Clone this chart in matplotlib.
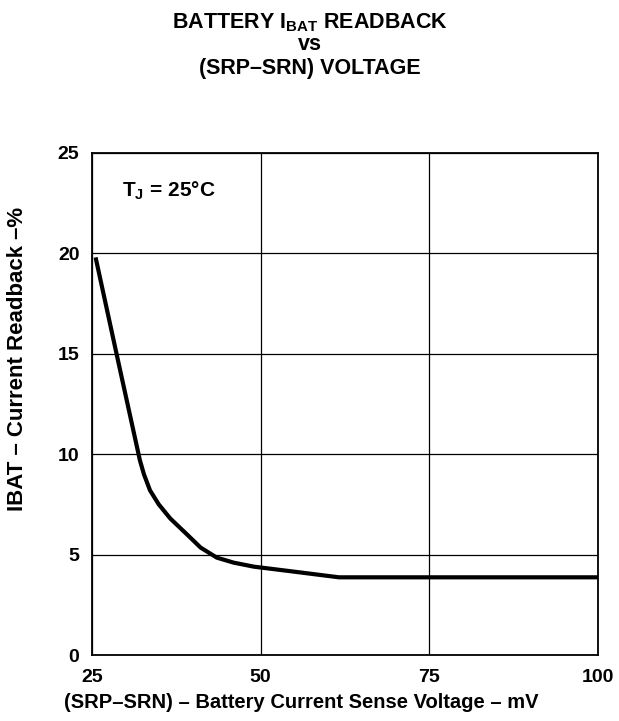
import matplotlib
matplotlib.use("Agg")
import matplotlib.pyplot as plt

# Readback error curve
vsense_mv = [25.6, 28.9, 32.1, 32.7, 33.6, 34.9, 36.6, 39.1, 41.1, 43.5, 46.0, 49.0, 55.0, 61.6, 70.0, 85.0, 100.0]
ibat_err = [19.7, 14.6, 9.7, 9.0, 8.2, 7.5, 6.8, 6.0, 5.35, 4.85, 4.6, 4.4, 4.15, 3.87, 3.87, 3.87, 3.87]

x_ticks = [25, 50, 75, 100]
y_ticks = [0, 5, 10, 15, 20, 25]

plt.rcParams["font.family"] = ["Liberation Sans", "DejaVu Sans"]
plt.rcParams["font.weight"] = "bold"
plt.rcParams["mathtext.fontset"] = "custom"
plt.rcParams["mathtext.rm"] = "Liberation Sans:bold"
plt.rcParams["mathtext.bf"] = "Liberation Sans:bold"

fig = plt.figure(figsize=(6.19, 7.21), dpi=100)
ax = fig.add_axes([0.1486, 0.0915, 0.8175, 0.6963])

ax.plot(vsense_mv, ibat_err, color="black", linewidth=3.0, solid_joinstyle="round")

ax.set_xlim(25, 100)
ax.set_ylim(0, 25)
ax.set_xticks(x_ticks)
ax.set_yticks(y_ticks)
ax.tick_params(length=0, labelsize=14)
ax.tick_params(axis="x", pad=10)
ax.tick_params(axis="y", pad=9)
for lbl in ax.get_xticklabels() + ax.get_yticklabels():
    lbl.set_fontweight("bold")
ax.grid(True, color="black", linewidth=0.9)
for sp in ax.spines.values():
    sp.set_linewidth(1.3)

# axis titles placed by hand, the original has them off-centre
fig.text(0.487, 0.025, "(SRP\u2013SRN) \u2013 Battery Current Sense Voltage \u2013 mV",
         ha="center", va="center", fontsize=14.5, fontweight="bold")
fig.text(0.029, 0.502, "IBAT \u2013 Current Readback \u2013%", rotation=90,
         ha="center", va="center", fontsize=16, fontweight="bold")

ax.text(0.06, 0.924, "T$_{\\mathrm{J}}$ = 25\u00b0C", transform=ax.transAxes,
        fontsize=15, fontweight="bold", va="center", ha="left")

fig.text(0.5, 0.961, "BATTERY I$_{\\mathrm{BAT}}$ READBACK", ha="center", va="baseline",
         fontsize=15.5, fontweight="bold")
fig.text(0.5, 0.931, "vs", ha="center", va="baseline", fontsize=15.5, fontweight="bold")
fig.text(0.5, 0.897, "(SRP\u2013SRN) VOLTAGE", ha="center", va="baseline",
         fontsize=15.5, fontweight="bold")

fig.savefig("out.png", dpi=100)
